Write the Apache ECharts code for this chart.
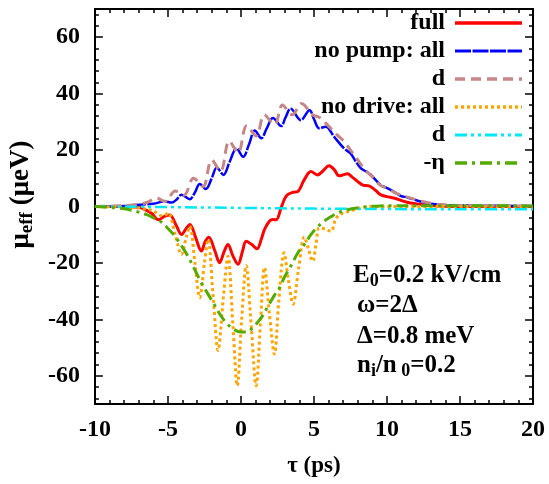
<!DOCTYPE html>
<html>
<head>
<meta charset="utf-8">
<script src="https://cdn.jsdelivr.net/npm/echarts@6/dist/echarts.min.js"></script>
<style>
  html, body { margin: 0; padding: 0; background: #fff; }
  #chart { width: 549px; height: 484px; }
</style>
</head>
<body>
<div id="chart"></div>
<script>
// tau (ps) vs mu_eff (ueV), one [tau, value] list per curve
const fullCurve = [
  [-10, 0], [-8, 0], [-7, -0.3], [-6.6, -1.0], [-6.1, -2.5], [-5.65, -4.7], [-5.2, -3.4],
  [-4.87, -3.0], [-4.45, -6.5], [-4.07, -9.9], [-3.75, -7.8], [-3.5, -6.4], [-3.1, -11],
  [-2.71, -15.8], [-2.45, -12.5], [-2.2, -10.9], [-1.8, -15.5], [-1.46, -19.9], [-1.15, -16],
  [-0.89, -13.5], [-0.55, -17.5], [-0.2, -20.5], [0.1, -16], [0.36, -12.3], [0.75, -13.5],
  [1.1, -15], [1.4, -11.5], [1.61, -8.2], [1.95, -5.2], [2.2, -4.6], [2.41, -4.7], [2.75, -0.5],
  [3.0, 2.8], [3.2, 4.2], [3.54, 5.0], [3.89, 5.3], [4.34, 9.5], [4.79, 12.4], [5.25, 11.2],
  [5.6, 12.5], [6.04, 14.4], [6.4, 13], [6.72, 10.9], [7.0, 11.2], [7.29, 11.6], [7.6, 10.5],
  [7.98, 8.9], [8.4, 7.5], [8.77, 7.3], [9.2, 5.8], [9.56, 4.2], [10, 3.5], [10.47, 3.0],
  [11.38, 1.5], [12.5, 0.6], [13.6, 0.2], [15, 0], [20, 0]
];
const noPumpAll = [
  [-10, 0], [-8, 0.2], [-7, 0.6], [-6, 1.0], [-5.2, 1.8], [-4.75, 1.4], [-4.4, 2.5],
  [-4.07, 4.2], [-3.5, 2.6], [-3.15, 5], [-2.82, 8], [-2.4, 6.2], [-2.0, 10], [-1.65, 13.8],
  [-1.2, 11.2], [-0.8, 15.5], [-0.3, 20.6], [0.15, 17.6], [0.55, 22], [0.95, 26.9], [1.4, 24.2],
  [1.75, 27.5], [2.2, 31.4], [2.75, 28.5], [3.05, 31.5], [3.4, 34.7], [4.1, 30.6], [4.7, 34.1],
  [5.0, 31], [5.36, 27.7], [5.81, 28.3], [6.38, 24.7], [7.06, 20.6], [7.5, 18.8], [7.8, 16.5],
  [8.2, 13.6], [8.6, 12.3], [8.9, 11.2], [9.3, 9], [9.56, 7.7], [10.25, 5.9], [10.93, 3.8],
  [11.4, 3.2], [12.5, 1.5], [13.6, 0.6], [16, 0.3], [20, 0.2]
];
const noPumpD = [
  [-10, 0], [-8, 0.3], [-7, 0.8], [-6.4, 1.5], [-5.8, 3], [-5.2, 1.8], [-4.5, 5.5], [-3.9, 4],
  [-3.25, 10], [-2.6, 7], [-2.0, 16.5], [-1.4, 12.5], [-0.8, 23.2], [-0.2, 19], [0.4, 28.7],
  [1.05, 25], [1.6, 32.5], [2.3, 29], [2.85, 36], [3.5, 32.5], [4.15, 36.5], [4.9, 32.5],
  [5.4, 31.5], [6.0, 28.5], [6.6, 25.3], [7.07, 23], [7.5, 20], [8.0, 16.5], [8.5, 13],
  [9.0, 10.5], [9.56, 7.5], [10.0, 6.5], [10.5, 5], [11.4, 3.3], [12.5, 1.7], [13.6, 0.7],
  [16, 0.3], [20, 0.2]
];
const noDriveAll = [
  [-10, 0], [-8, -0.2], [-7, -0.5], [-6.5, -1.0], [-6.0, -1.5], [-5.6, -3.0], [-5.3, -3.3],
  [-4.98, -2.3], [-4.5, -10], [-4.07, -17], [-3.75, -11], [-3.5, -7], [-3.15, -20],
  [-2.82, -32.3], [-2.5, -20], [-2.25, -11.7], [-1.9, -32], [-1.57, -51], [-1.2, -32],
  [-0.89, -17.6], [-0.55, -42], [-0.25, -63.5], [0.05, -40], [0.36, -21], [0.7, -42],
  [1.04, -63.5], [1.35, -40], [1.61, -21.7], [1.95, -38], [2.29, -52.3], [2.6, -33],
  [2.95, -16.4], [3.25, -26], [3.57, -34.6], [3.95, -22], [4.34, -10.8], [4.62, -15],
  [4.91, -19.4], [5.15, -13], [5.36, -7.6], [5.75, -8], [6.16, -8.8], [6.45, -5], [6.72, -2.9],
  [7.1, -2.3], [7.52, -1.5], [8.2, -0.5], [9, 0], [20, 0]
];
const noDriveD = [
  [-10, 0], [-5, -0.2], [0, -0.5], [5, -0.75], [10, -0.9], [15, -1.0], [20, -1.0]
];
const minusEta = [
  [-10, 0], [-8, -0.8], [-7, -2.0], [-6.45, -2.9], [-6, -4], [-5.43, -5.6], [-5, -7.8],
  [-4.53, -10.5], [-4.0, -14.5], [-3.61, -17.8], [-3.2, -22], [-2.71, -27], [-2.2, -31.5],
  [-1.8, -35], [-1.4, -38.5], [-1.0, -41.3], [-0.5, -43.5], [0.0, -44.5], [0.4, -44.5],
  [0.8, -43], [1.38, -39.5], [1.84, -35.5], [2.29, -31.5], [2.63, -29], [2.98, -25],
  [3.43, -21], [3.89, -16.5], [4.34, -13.5], [4.79, -10], [5.2, -7.5], [5.7, -5.2],
  [6.2, -3.5], [6.61, -2.3], [7.1, -1.4], [7.52, -0.9], [8.4, -0.2], [9.5, 0.2], [12, 0.3],
  [20, 0.2]
];

const yMajor = [-60, -40, -20, 0, 20, 40, 60];
const yMinor = [-68, -64, -56, -52, -48, -44, -36, -32, -28, -24, -16, -12, -8, -4,
                4, 8, 12, 16, 24, 28, 32, 36, 44, 48, 52, 56, 64, 68];

const seriesNames = ['full', 'no pump: all', 'd', 'no drive: all', 'd', '-\u03b7'];
const seriesColors = ['#ff0000', '#0000ff', '#c48686', '#ffa500', '#00e8f4', '#55aa00'];
const seriesDash = ['solid', [16, 1.5], [10, 6], [3, 3], [12, 4, 3, 4, 3, 4], [12, 5, 3, 5]];
const seriesWidth = [3, 2.5, 3, 3, 2.5, 3];
const seriesData = [fullCurve, noPumpAll, noPumpD, noDriveAll, noDriveD, minusEta];

const FONT = 'Liberation Serif';
const chart = echarts.init(document.getElementById('chart'), null, { renderer: 'canvas' });

const gridBox = { left: 93, right: 16, top: 9, bottom: 80 };

function yAxisDef(position, ticks, len, withLabels, withLine) {
  return {
    type: 'value', min: -70, max: 70, position: position,
    axisLine: { show: withLine, onZero: false, lineStyle: { color: '#000', width: 2 } },
    axisTick: { show: true, inside: true, length: len, customValues: ticks,
                lineStyle: { color: '#000', width: 1.5 } },
    axisLabel: withLabels ? { show: true, customValues: ticks, margin: 15,
                color: '#000', fontFamily: FONT, fontWeight: 'bold', fontSize: 24 }
              : { show: false },
    splitLine: { show: false }
  };
}

const yAxes = [
  Object.assign(yAxisDef('left', yMajor, 8, true, true), {
    name: '{m|\u03bc}{s|eff}{m| (\u03bceV)}',
    nameLocation: 'middle', nameGap: 56, nameRotate: 90,
    nameTextStyle: {
      padding: [0, 0, 0, 24],
      rich: {
        m: { fontFamily: FONT, fontWeight: 'bold', fontSize: 27, color: '#000' },
        s: { fontFamily: FONT, fontWeight: 'bold', fontSize: 19, color: '#000',
             verticalAlign: 'bottom', padding: [12, 0, 0, 0] }
      }
    }
  }),
  yAxisDef('left', yMinor, 4, false, false),
  yAxisDef('right', yMajor, 8, false, true),
  yAxisDef('right', yMinor, 4, false, false)
];

function xAxisDef(position, withLabels) {
  return {
    type: 'value', min: -10, max: 20, interval: 5, position: position,
    axisLine: { show: true, onZero: false, lineStyle: { color: '#000', width: 2 } },
    axisTick: { show: true, inside: true, length: 8, lineStyle: { color: '#000', width: 1.5 } },
    minorTick: { show: true, splitNumber: 5, length: 4, lineStyle: { color: '#000', width: 1.5 } },
    axisLabel: withLabels ? { show: true, margin: 14, color: '#000', fontFamily: FONT,
                fontWeight: 'bold', fontSize: 24 } : { show: false },
    splitLine: { show: false }
  };
}

const xAxes = [
  Object.assign(xAxisDef('bottom', true), {
    name: '\u03c4 (ps)', nameLocation: 'middle', nameGap: 51,
    nameTextStyle: { fontFamily: FONT, fontWeight: 'bold', fontSize: 23, color: '#000' }
  }),
  xAxisDef('top', false)
];

const series = seriesData.map((d, i) => ({
  name: seriesNames[i] + '#' + i,
  type: 'line', data: d, xAxisIndex: 0, yAxisIndex: 0,
  smooth: 0.35, showSymbol: false, symbol: 'none', animation: false,
  lineStyle: { color: seriesColors[i], width: seriesWidth[i], type: seriesDash[i], cap: 'butt' },
  z: 2 + i
}));

// key in the upper right: label text right-aligned, line sample beside it
const keyGraphics = [];
seriesNames.forEach((name, i) => {
  const y = 23 + 28 * i;
  keyGraphics.push({
    type: 'text', x: 445, y: y,
    style: { text: name, fill: '#000', font: 'bold 24px ' + FONT,
             textAlign: 'right', textVerticalAlign: 'middle' }, z: 20
  });
  keyGraphics.push({
    type: 'line', shape: { x1: 455, y1: y, x2: 522, y2: y },
    style: { stroke: seriesColors[i], lineWidth: seriesWidth[i] + 0.5, lineDash: seriesDash[i] === 'solid' ? null : seriesDash[i] },
    z: 20
  });
});

// parameter block in the lower right
const paramStyle = {
  m: { fontFamily: FONT, fontWeight: 'bold', fontSize: 25, fill: '#000' },
  s: { fontFamily: FONT, fontWeight: 'bold', fontSize: 18, fill: '#000',
       verticalAlign: 'bottom', padding: [11, 0, 0, 0] }
};
const paramLines = [
  { x: 353, y: 276, text: '{m|E}{s|0}{m|=0.2 kV/cm}' },
  { x: 357, y: 306, text: '{m|\u03c9=2\u0394}' },
  { x: 357, y: 337, text: '{m|\u0394=0.8 meV}' },
  { x: 357, y: 366, text: '{m|n}{s|i}{m|/n}{s| 0}{m|=0.2}' }
];
paramLines.forEach(p => {
  keyGraphics.push({
    type: 'text', x: p.x, y: p.y, z: 20,
    style: { text: p.text, rich: paramStyle, textVerticalAlign: 'middle', textAlign: 'left' }
  });
});

chart.setOption({
  backgroundColor: '#fff',
  animation: false,
  grid: gridBox,
  xAxis: xAxes,
  yAxis: yAxes,
  series: series,
  graphic: keyGraphics
});
</script>
</body>
</html>
